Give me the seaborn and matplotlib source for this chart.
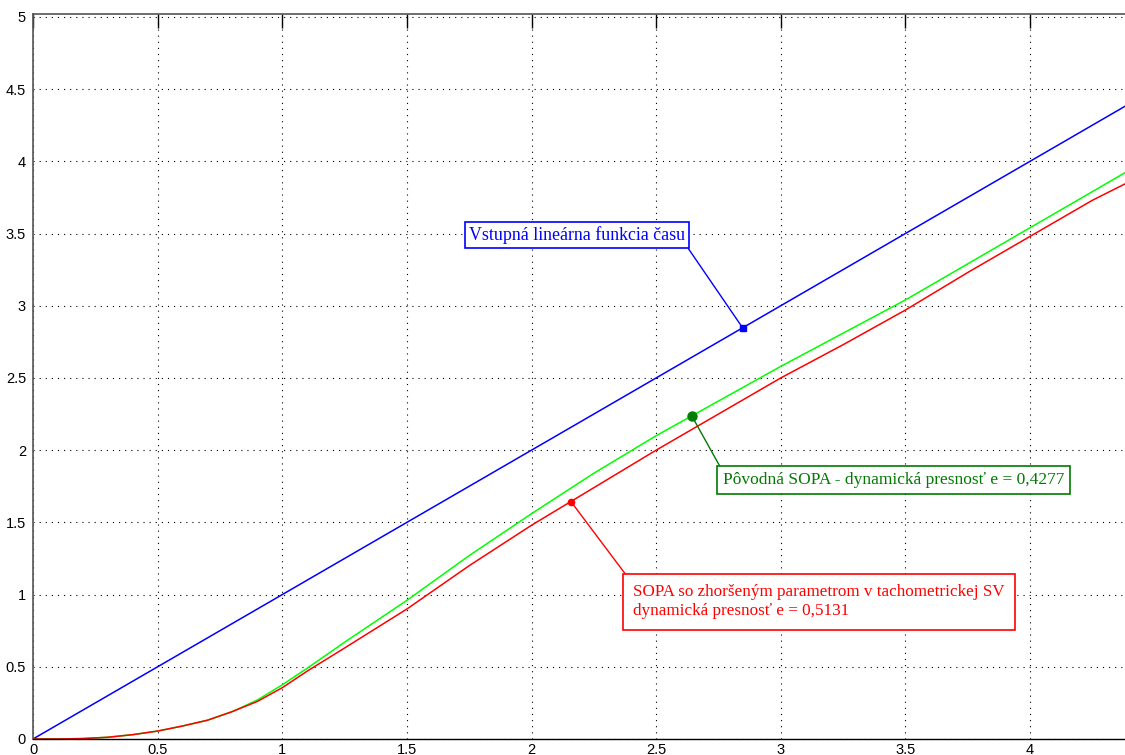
import numpy as np
import pandas as pd
import matplotlib
matplotlib.use("Agg")
import matplotlib.pyplot as plt
import seaborn as sns

# time axis [s]
t = [0.0, 0.1, 0.2, 0.3, 0.4, 0.5, 0.6, 0.7, 0.8, 0.9, 1.0, 1.1, 1.25, 1.5,
     1.75, 2.0, 2.25, 2.5, 2.75, 3.0, 3.25, 3.5, 3.75, 4.0, 4.25, 4.4]
# linear input ramp
vstup = [0.0, 0.1, 0.2, 0.3, 0.4, 0.5, 0.6, 0.7, 0.8, 0.9, 1.0, 1.1, 1.25, 1.5,
         1.75, 2.0, 2.25, 2.5, 2.75, 3.0, 3.25, 3.5, 3.75, 4.0, 4.25, 4.4]
# original SOPA response
povodna = [0.0, 0.0, 0.003, 0.012, 0.03, 0.055, 0.09, 0.13, 0.19, 0.27, 0.375,
           0.49, 0.67, 0.96, 1.27, 1.56, 1.84, 2.10, 2.34, 2.58, 2.81, 3.04,
           3.29, 3.54, 3.79, 3.94]
# SOPA with degraded tachometric feedback parameter
zhorsena = [0.0, 0.0, 0.003, 0.012, 0.03, 0.055, 0.09, 0.13, 0.19, 0.26, 0.355,
            0.47, 0.63, 0.90, 1.20, 1.48, 1.74, 2.00, 2.25, 2.50, 2.73, 2.97,
            3.23, 3.48, 3.73, 3.86]

series_names = ["vstup", "povodna", "zhorsena"]
series_colors = {"vstup": "#0000ff", "povodna": "#00ff00", "zhorsena": "#ff0000"}

label_vstup = "Vstupná lineárna funkcia času"
label_povodna = "Pôvodná SOPA - dynamická presnosť e = 0,4277"
label_zhorsena = ("SOPA so zhoršeným parametrom v tachometrickej SV\n"
                  "dynamická presnosť e = 0,5131")

x_ticks = [0, 0.5, 1, 1.5, 2, 2.5, 3, 3.5, 4]
y_ticks = [0, 0.5, 1, 1.5, 2, 2.5, 3, 3.5, 4, 4.5, 5]

df = pd.concat([
    pd.DataFrame({"t": t, "y": vstup, "signal": "vstup"}),
    pd.DataFrame({"t": t, "y": povodna, "signal": "povodna"}),
    pd.DataFrame({"t": t, "y": zhorsena, "signal": "zhorsena"}),
], ignore_index=True)

sns.set_style("white")
plt.rcParams["font.family"] = ["Liberation Sans", "DejaVu Sans"]

fig = plt.figure(figsize=(11.25, 7.55), dpi=100)
ax = fig.add_axes([33 / 1125, 16 / 755, 1092 / 1125, 725 / 755])

sns.lineplot(data=df, x="t", y="y", hue="signal", hue_order=series_names,
             palette=series_colors, estimator=None, linewidth=1.1,
             legend=False, ax=ax)

ax.set_xlim(0, 4.381)
ax.set_ylim(0, 5.02)
ax.set_xticks(x_ticks)
ax.set_xticklabels([f"{v:g}" for v in x_ticks])
ax.set_yticks(y_ticks)
ax.set_yticklabels([f"{v:g}" for v in y_ticks])
ax.set_xlabel("")
ax.set_ylabel("")

ax.grid(True, color="black", linestyle=(0, (1, 4.5)), linewidth=0.8)
ax.tick_params(direction="in", length=10, width=1, top=True, right=False,
               labelsize=10.5, pad=3, colors="black")
ax.tick_params(axis="y", pad=5)
ax.spines["right"].set_visible(False)
for side in ("left", "top"):
    ax.spines[side].set_color("#555555")
    ax.spines[side].set_linewidth(1.2)
ax.spines["bottom"].set_color("black")
ax.spines["bottom"].set_linewidth(1.0)

serif = ["Liberation Serif", "DejaVu Serif"]

# annotated points on the curves
xb, xg, xr = 2.847, 2.643, 2.158
yb = np.interp(xb, t, vstup)
yg = np.interp(xg, t, povodna)
yr = np.interp(xr, t, zhorsena)
ax.plot([xb], [yb], "s", color="#0000ff", ms=4.5, zorder=5)
ax.plot([xg], [yg], "o", color="#008000", ms=6.5, zorder=5)
ax.plot([xr], [yr], "o", color="#ff0000", ms=4.5, zorder=5)

ax.annotate(label_vstup, xy=(xb, yb), xytext=(1.75, 3.55),
            ha="left", va="top", fontsize=12.9, family=serif, color="#0000ff",
            bbox=dict(boxstyle="square,pad=0.22", fc="white", ec="#0000ff", lw=1.2),
            arrowprops=dict(arrowstyle="-", color="#0000ff", lw=1.0,
                            relpos=(1, 0), shrinkA=0, shrinkB=0),
            zorder=6)

ax.annotate(label_povodna, xy=(xg, yg), xytext=(2.768, 1.85),
            ha="left", va="top", fontsize=12.5, family=serif, color="#007a00",
            bbox=dict(boxstyle="square,pad=0.33", fc="white", ec="#007a00", lw=1.2),
            arrowprops=dict(arrowstyle="-", color="#007a00", lw=1.0,
                            relpos=(0, 1), shrinkA=0, shrinkB=0),
            zorder=6)

ax.annotate(label_zhorsena, xy=(xr, yr), xytext=(2.408, 1.07),
            ha="left", va="top", fontsize=12.3, family=serif, color="#ff0000",
            linespacing=1.25,
            bbox=dict(boxstyle="square,pad=0.6", fc="white", ec="#ff0000", lw=1.2),
            arrowprops=dict(arrowstyle="-", color="#ff0000", lw=1.0,
                            relpos=(0, 1), shrinkA=0, shrinkB=0),
            zorder=6)

fig.savefig("out.png", dpi=100, facecolor="white")
